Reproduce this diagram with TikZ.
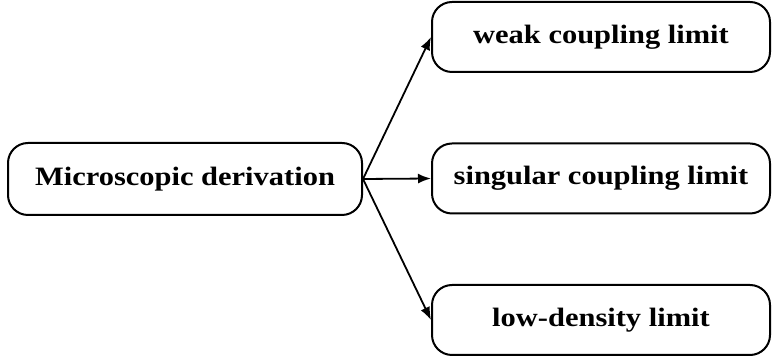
\documentclass[tikz,border=0pt]{standalone}
\usepackage{fontspec}
\setmainfont[FakeStretch=1.15]{Liberation Serif}
\usepackage{tikz}
\usetikzlibrary{positioning,arrows.meta}

\begin{document}
\begin{tikzpicture}[x=1pt,y=1pt,
    limitbox/.style={draw,line width=2pt,rounded corners=20pt,minimum width=338pt,minimum height=70pt,font=\fontsize{26.5}{30}\selectfont\bfseries},
    arr/.style={-{Latex[length=13pt,width=10pt]},line width=1.8pt}]
    \useasboundingbox (0,0) rectangle (774,358);
    \node[limitbox,minimum width=354pt,minimum height=72pt] (micro) at (185,179) {Microscopic derivation};
    \node[limitbox] (weak) at (601,321) {weak coupling limit};
    \node[limitbox] (sing) at (601,179.5) {singular coupling limit};
    \node[limitbox] (low) at (601,38) {low-density limit};
    \draw[arr] (micro.east) -- (weak.west);
    \draw[arr] (micro.east) -- (sing.west);
    \draw[arr] (micro.east) -- (low.west);
\end{tikzpicture}
\end{document}
